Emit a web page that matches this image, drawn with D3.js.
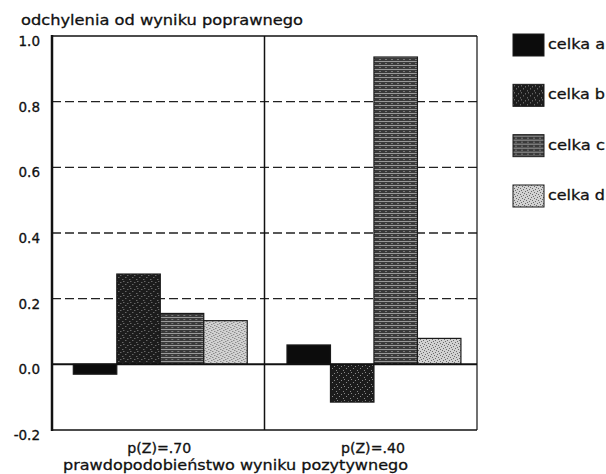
<!DOCTYPE html>
<html><head><meta charset="utf-8">
<script src="https://cdn.jsdelivr.net/npm/d3@7"></script>
<style>
html,body{margin:0;padding:0;background:#fff;}
svg{display:block;}
text{font-family:"DejaVu Sans",sans-serif;fill:#111;stroke:#111;stroke-width:0.3px;}
</style></head>
<body>
<svg id="chart" width="606" height="474"></svg>
<script>
// ---- data ----
const groups = ["p(Z)=.70", "p(Z)=.40"];
const series = ["celka a", "celka b", "celka c", "celka d"];
const valuesA = [-0.03, 0.059];
const valuesB = [0.275, -0.115];
const valuesC = [0.155, 0.936];
const valuesD = [0.133, 0.079];
const yTicks = [1.0, 0.8, 0.6, 0.4, 0.2, 0.0, -0.2];
const gridValues = [0.8, 0.6, 0.4, 0.2];
const yTitle = "odchylenia od wyniku poprawnego";
const xTitle = "prawdopodobieństwo wyniku pozytywnego";

const seriesValues = [valuesA, valuesB, valuesC, valuesD];
const data = groups.map((g, gi) => ({group: g, vals: series.map((s, si) => ({key: s, value: seriesValues[si][gi]}))}));

const svg = d3.select("#chart");
const L = 52, R = 477, T = 36, B = 430;

// patterns to mimic printed textures
const defs = svg.append("defs");
function pat(id, base, w, h, fn) {
  const p = defs.append("pattern").attr("id", id).attr("patternUnits", "userSpaceOnUse")
    .attr("width", w).attr("height", h);
  p.append("rect").attr("width", w).attr("height", h).attr("fill", base);
  fn(p);
}
pat("pa", "#0c0c0c", 6, 6, p => {});
pat("pb", "#1c1c1c", 7, 7, p => {
  [[1,1],[5,2],[3,4],[0,6]].forEach(([x,y]) => p.append("rect").attr("x",x).attr("y",y).attr("width",1).attr("height",1).attr("fill","#8a8a8a"));
});
pat("pc", "#3a3a3a", 6, 4, p => {
  p.append("rect").attr("x",0).attr("y",1).attr("width",6).attr("height",1).attr("fill","#9a9a9a");
  p.append("rect").attr("x",2).attr("y",3).attr("width",2).attr("height",1).attr("fill","#7a7a7a");
});
pat("pd", "#d2d2d2", 6, 6, p => {
  [[0,0],[3,1],[1,3],[4,4],[2,5],[5,2]].forEach(([x,y]) => p.append("rect").attr("x",x).attr("y",y).attr("width",1).attr("height",1).attr("fill","#6a6a6a"));
});
const fills = {"celka a": "url(#pa)", "celka b": "url(#pb)", "celka c": "url(#pc)", "celka d": "url(#pd)"};

const y = d3.scaleLinear().domain([-0.2, 1.0]).range([B, T]);
const x0 = d3.scaleBand().domain(groups).range([L, R]).paddingInner(0.186).paddingOuter(0.0875).align(0.57);
const x1 = d3.scaleBand().domain(series).range([0, x0.bandwidth()]).padding(0);

// gridlines
svg.append("g").selectAll("line").data(gridValues).join("line")
  .attr("x1", L).attr("x2", R).attr("y1", d => y(d)).attr("y2", d => y(d))
  .attr("stroke", "#222").attr("stroke-width", 1.3).attr("stroke-dasharray", "9,4");

// bars
const gg = svg.append("g").selectAll("g").data(data).join("g")
  .attr("transform", d => `translate(${x0(d.group)},0)`);
gg.selectAll("rect").data(d => d.vals).join("rect")
  .attr("x", d => x1(d.key)).attr("width", x1.bandwidth())
  .attr("y", d => y(Math.max(0, d.value)))
  .attr("height", d => Math.abs(y(d.value) - y(0)))
  .attr("fill", d => fills[d.key]).attr("stroke", "#1a1a1a").attr("stroke-width", 1.2);

// frame
const frame = svg.append("g").attr("stroke", "#111").attr("fill", "none");
frame.append("line").attr("x1", L).attr("x2", R).attr("y1", T).attr("y2", T).attr("stroke-width", 1.5);
frame.append("line").attr("x1", R).attr("x2", R).attr("y1", T).attr("y2", B).attr("stroke-width", 1.2);
frame.append("line").attr("x1", L).attr("x2", R).attr("y1", B).attr("y2", B).attr("stroke-width", 1.5);
frame.append("line").attr("x1", (L + R) / 2).attr("x2", (L + R) / 2).attr("y1", T).attr("y2", B).attr("stroke-width", 1.5);
frame.append("line").attr("x1", L).attr("x2", R).attr("y1", y(0)).attr("y2", y(0)).attr("stroke-width", 2);
frame.append("line").attr("x1", L).attr("x2", L).attr("y1", T - 1).attr("y2", B + 1).attr("stroke-width", 2.5);

// y tick labels
svg.append("g").selectAll("text").data(yTicks).join("text")
  .attr("x", 40).attr("y", d => y(d) + 10).attr("text-anchor", "end")
  .attr("font-size", 13.5).text(d => d3.format(".1f")(d).replace("\u2212", "-"));

// y title
svg.append("text").attr("x", 21).attr("y", 25).attr("font-size", 14.5)
  .attr("textLength", 282).attr("lengthAdjust", "spacingAndGlyphs").text(yTitle);

// x group labels
svg.append("g").selectAll("text").data(groups).join("text")
  .attr("x", d => x0(d) + x0.bandwidth() / 2 - 1).attr("y", 453).attr("text-anchor", "middle")
  .attr("font-size", 13.5).attr("textLength", 64).attr("lengthAdjust", "spacingAndGlyphs").text(d => d);

// x title
svg.append("text").attr("x", 63).attr("y", 470).attr("font-size", 14.5)
  .attr("textLength", 345).attr("lengthAdjust", "spacingAndGlyphs").text(xTitle);

// legend
const legY = d3.scalePoint().domain(series).range([34, 185]);
const lg = svg.append("g").selectAll("g").data(series).join("g")
  .attr("transform", d => `translate(513,${legY(d)})`);
lg.append("rect").attr("width", 31).attr("height", 22).attr("fill", d => fills[d])
  .attr("stroke", "#1a1a1a").attr("stroke-width", 1);
lg.append("text").attr("x", 35).attr("y", 15).attr("font-size", 14.5)
  .attr("textLength", 57).attr("lengthAdjust", "spacingAndGlyphs").text(d => d);
</script>
</body></html>
